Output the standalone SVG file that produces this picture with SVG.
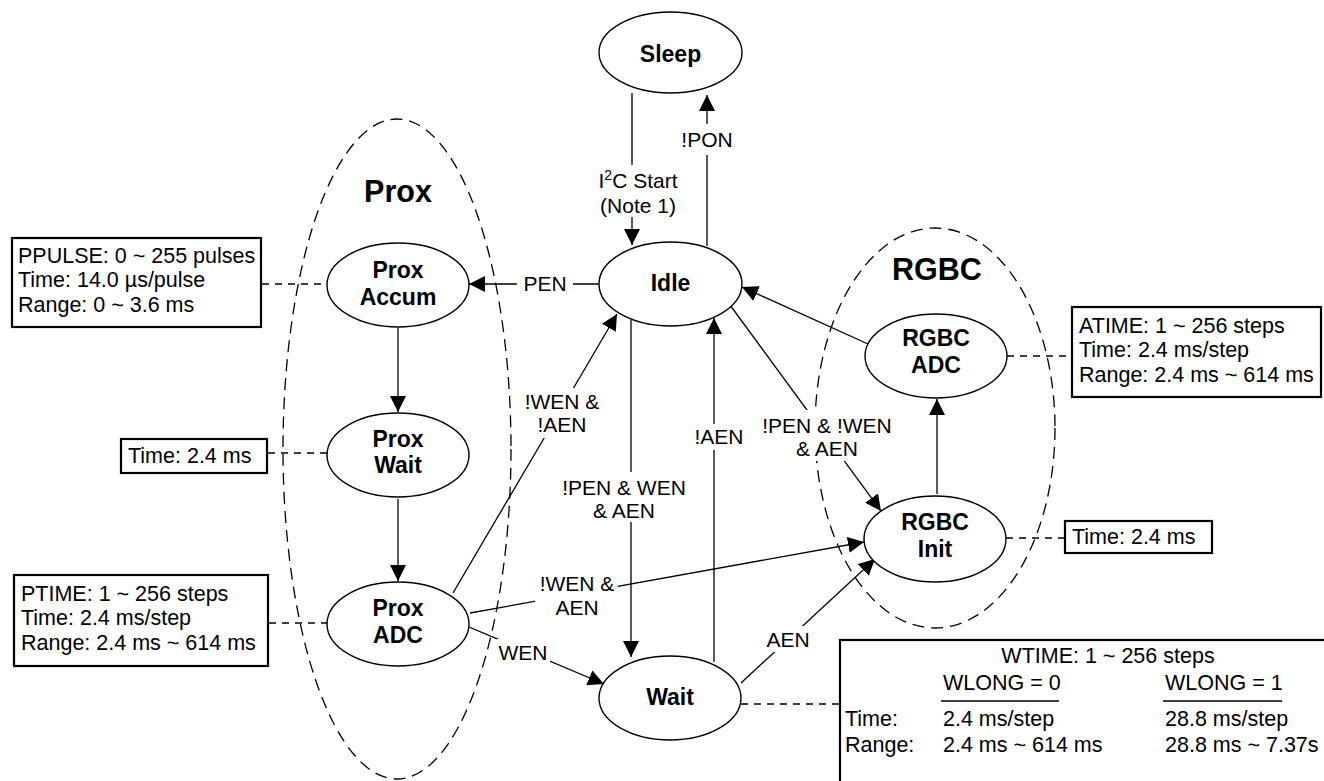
<svg xmlns="http://www.w3.org/2000/svg" width="1324" height="781" viewBox="0 0 1324 781">
<defs>
<marker id="arr" markerUnits="userSpaceOnUse" markerWidth="16" markerHeight="16" refX="16" refY="8" orient="auto">
<path d="M0,0 L16,8 L0,16 z" fill="#000"/>
</marker>
<style>
text{font-family:"Liberation Sans",Arial,Helvetica,sans-serif;fill:#000}
.grp{fill:none;stroke:#000;stroke-width:1.3;stroke-dasharray:12,7}
.gl{font-size:30.5px;font-weight:bold;text-anchor:middle}
.nd ellipse{fill:#fff;stroke:#000;stroke-width:1.4}
.nd text{font-size:23px;font-weight:bold;text-anchor:middle}
.cn line{stroke:#000;stroke-width:1.3;fill:none}
.cn .a{marker-end:url(#arr)}
.dl line{stroke:#000;stroke-width:1.3;stroke-dasharray:7,6}
.bx rect{fill:#fff;stroke:#000;stroke-width:2.2}
.bx text{font-size:21.5px}
.lb rect{fill:#fff;stroke:none}
.lb text{font-size:21px;text-anchor:middle}
.ul{stroke:#000;stroke-width:1.3}
</style>
</defs>
<rect width="1324" height="781" fill="#fff"/>

<g id="groups">
<ellipse id="prox-group" class="grp" cx="397" cy="449" rx="114" ry="330"/>
<text class="gl" x="398" y="202">Prox</text>
<ellipse id="rgbc-group" class="grp" cx="935" cy="428" rx="120" ry="200"/>
<text class="gl" x="937" y="280">RGBC</text>
</g>

<g id="dashed-links" class="dl">
<line x1="262" y1="284" x2="327" y2="284"/>
<line x1="268" y1="453" x2="327" y2="453"/>
<line x1="269" y1="623" x2="327" y2="623"/>
<line x1="1007" y1="356" x2="1072" y2="356"/>
<line x1="1006" y1="538" x2="1065" y2="538"/>
<line x1="741" y1="704" x2="840" y2="704"/>
</g>

<g id="connectors" class="cn">
<line class="a" x1="632" y1="93" x2="632" y2="245"/>
<line class="a" x1="707" y1="246" x2="707" y2="95"/>
<line class="a" x1="599" y1="284" x2="469" y2="284"/>
<line class="a" x1="398" y1="328" x2="398" y2="412"/>
<line class="a" x1="398" y1="499" x2="398" y2="581"/>
<line class="a" x1="453" y1="593" x2="617" y2="314"/>
<line class="a" x1="631" y1="320" x2="631" y2="657"/>
<line class="a" x1="714" y1="662" x2="714" y2="318"/>
<line class="a" x1="730" y1="305" x2="881" y2="511"/>
<line class="a" x1="868" y1="344" x2="742" y2="287"/>
<line class="a" x1="937" y1="494" x2="937" y2="399"/>
<line class="a" x1="470" y1="613" x2="864" y2="542"/>
<line class="a" x1="469" y1="627" x2="604" y2="684"/>
<line class="a" x1="741" y1="683" x2="875" y2="559"/>
</g>

<g id="node-sleep" class="nd"><ellipse cx="670.5" cy="52.5" rx="71.5" ry="40.5"/><text x="670.5" y="62">Sleep</text></g>
<g id="node-idle" class="nd"><ellipse cx="670.5" cy="284" rx="71.5" ry="42"/><text x="670.5" y="291">Idle</text></g>
<g id="node-prox-accum" class="nd"><ellipse cx="398" cy="285" rx="71" ry="42"/><text x="398" y="278">Prox</text><text x="398" y="305">Accum</text></g>
<g id="node-prox-wait" class="nd"><ellipse cx="398" cy="455" rx="71" ry="42"/><text x="398" y="447">Prox</text><text x="398" y="473">Wait</text></g>
<g id="node-prox-adc" class="nd"><ellipse cx="398" cy="624" rx="71" ry="42"/><text x="398" y="616">Prox</text><text x="398" y="643">ADC</text></g>
<g id="node-wait" class="nd"><ellipse cx="670" cy="698" rx="71" ry="42"/><text x="670" y="705">Wait</text></g>
<g id="node-rgbc-adc" class="nd"><ellipse cx="936" cy="356" rx="71" ry="42"/><text x="936" y="346">RGBC</text><text x="936" y="373">ADC</text></g>
<g id="node-rgbc-init" class="nd"><ellipse cx="935" cy="539" rx="71" ry="43"/><text x="935" y="530">RGBC</text><text x="935" y="557">Init</text></g>

<g id="labels" class="lb">
<rect x="596" y="165" width="86" height="52"/>
<text x="638" y="188">I<tspan font-size="14" dy="-8">2</tspan><tspan dy="8">C Start</tspan></text>
<text x="638" y="213">(Note 1)</text>
<rect x="680" y="124" width="54" height="31"/>
<text x="707" y="147">!PON</text>
<rect x="517" y="274" width="56" height="22"/>
<text x="545" y="291">PEN</text>
<rect x="522" y="388" width="80" height="50"/>
<text x="562" y="409">!WEN &amp;</text>
<text x="562" y="432">!AEN</text>
<rect x="560" y="472" width="128" height="50"/>
<text x="624" y="495">!PEN &amp; WEN</text>
<text x="624" y="518">&amp; AEN</text>
<rect x="693" y="424" width="52" height="26"/>
<text x="719" y="444">!AEN</text>
<rect x="760" y="410" width="134" height="51"/>
<text x="827" y="433">!PEN &amp; !WEN</text>
<text x="827" y="456">&amp; AEN</text>
<rect x="535" y="572" width="83" height="48"/>
<text x="577" y="591">!WEN &amp;</text>
<text x="577" y="615">AEN</text>
<rect x="497" y="639" width="53" height="25"/>
<text x="523" y="660">WEN</text>
<rect x="765" y="626" width="46" height="26"/>
<text x="788" y="647">AEN</text>
</g>

<g id="box-ppulse" class="bx">
<rect x="12" y="238" width="249" height="89"/>
<text x="18" y="263">PPULSE: 0 ~ 255 pulses</text>
<text x="18" y="287">Time: 14.0 µs/pulse</text>
<text x="18" y="312">Range: 0 ~ 3.6 ms</text>
</g>
<g id="box-proxwait-time" class="bx">
<rect x="121" y="439" width="146" height="34"/>
<text x="128" y="463">Time: 2.4 ms</text>
</g>
<g id="box-ptime" class="bx">
<rect x="14" y="575" width="254" height="91"/>
<text x="21" y="601">PTIME: 1 ~ 256 steps</text>
<text x="21" y="625">Time: 2.4 ms/step</text>
<text x="21" y="650">Range: 2.4 ms ~ 614 ms</text>
</g>
<g id="box-atime" class="bx">
<rect x="1072" y="307" width="249" height="90"/>
<text x="1079" y="333">ATIME: 1 ~ 256 steps</text>
<text x="1079" y="357">Time: 2.4 ms/step</text>
<text x="1079" y="382">Range: 2.4 ms ~ 614 ms</text>
</g>
<g id="box-rgbcinit-time" class="bx">
<rect x="1065" y="521" width="147" height="32"/>
<text x="1072" y="544">Time: 2.4 ms</text>
</g>
<g id="box-wtime" class="bx">
<rect x="840" y="640" width="500" height="160"/>
<text x="1108" y="663" text-anchor="middle">WTIME: 1 ~ 256 steps</text>
<text x="943" y="690">WLONG = 0</text>
<line class="ul" x1="941" y1="701" x2="1059" y2="701"/>
<text x="1165" y="690">WLONG = 1</text>
<line class="ul" x1="1163" y1="701" x2="1282" y2="701"/>
<text x="845" y="726">Time:</text>
<text x="943" y="726">2.4 ms/step</text>
<text x="1165" y="726">28.8 ms/step</text>
<text x="845" y="752">Range:</text>
<text x="943" y="752">2.4 ms ~ 614 ms</text>
<text x="1165" y="752">28.8 ms ~ 7.37s</text>
</g>
</svg>
